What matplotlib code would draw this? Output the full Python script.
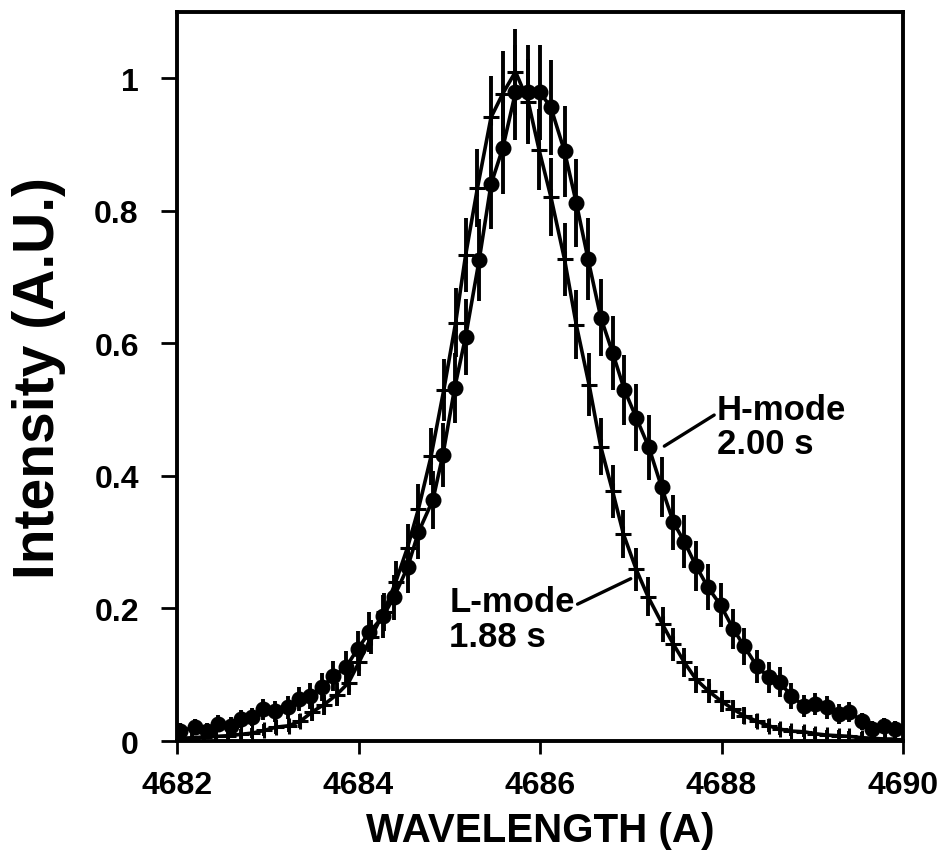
import matplotlib
matplotlib.use("Agg")
import matplotlib.pyplot as plt

plt.rcParams['font.family'] = ['Liberation Sans', 'DejaVu Sans']

# H-mode, 2.00 s (filled circles)
h_wl = [4682.03, 4682.20, 4682.33, 4682.45, 4682.59, 4682.71, 4682.83, 4682.95,
        4683.08, 4683.22, 4683.34, 4683.47, 4683.60, 4683.72, 4683.86, 4683.99,
        4684.12, 4684.27, 4684.39, 4684.54, 4684.66, 4684.82, 4684.93, 4685.06,
        4685.18, 4685.33, 4685.46, 4685.59, 4685.73, 4685.87, 4686.00, 4686.12,
        4686.27, 4686.40, 4686.53, 4686.67, 4686.80, 4686.93, 4687.06, 4687.20,
        4687.34, 4687.47, 4687.59, 4687.72, 4687.85, 4687.99, 4688.13, 4688.25,
        4688.39, 4688.52, 4688.64, 4688.77, 4688.91, 4689.03, 4689.16, 4689.29,
        4689.41, 4689.55, 4689.66, 4689.79, 4689.91]
h_int = [0.015, 0.021, 0.015, 0.026, 0.023, 0.033, 0.036, 0.048,
         0.045, 0.051, 0.063, 0.068, 0.081, 0.098, 0.111, 0.139,
         0.164, 0.188, 0.217, 0.262, 0.315, 0.364, 0.432, 0.533,
         0.610, 0.726, 0.840, 0.895, 0.979, 0.979, 0.979, 0.956,
         0.890, 0.812, 0.727, 0.639, 0.586, 0.530, 0.488, 0.443,
         0.383, 0.330, 0.301, 0.264, 0.232, 0.205, 0.169, 0.143,
         0.113, 0.096, 0.089, 0.068, 0.053, 0.056, 0.051, 0.041,
         0.044, 0.030, 0.018, 0.023, 0.018]
h_err = [0.012, 0.012, 0.012, 0.013, 0.013, 0.014, 0.014, 0.016,
         0.016, 0.017, 0.018, 0.019, 0.021, 0.023, 0.025, 0.027,
         0.030, 0.032, 0.034, 0.038, 0.041, 0.044, 0.048, 0.053,
         0.057, 0.062, 0.067, 0.069, 0.072, 0.072, 0.072, 0.071,
         0.069, 0.066, 0.062, 0.058, 0.056, 0.053, 0.051, 0.049,
         0.045, 0.042, 0.040, 0.038, 0.035, 0.033, 0.030, 0.028,
         0.025, 0.023, 0.022, 0.019, 0.017, 0.017, 0.017, 0.015,
         0.015, 0.013, 0.012, 0.012, 0.012]

# L-mode, 1.88 s (plus signs)
l_wl = [4682.03, 4682.17, 4682.30, 4682.43, 4682.56, 4682.70, 4682.83, 4682.96,
        4683.09, 4683.23, 4683.36, 4683.49, 4683.62, 4683.76, 4683.89, 4684.01,
        4684.14, 4684.28, 4684.41, 4684.54, 4684.66, 4684.80, 4684.94, 4685.07,
        4685.18, 4685.31, 4685.46, 4685.59, 4685.73, 4685.87, 4685.99, 4686.12,
        4686.27, 4686.40, 4686.54, 4686.67, 4686.80, 4686.92, 4687.06, 4687.19,
        4687.35, 4687.47, 4687.59, 4687.72, 4687.86, 4688.00, 4688.13, 4688.25,
        4688.39, 4688.52, 4688.64, 4688.77, 4688.91, 4689.03, 4689.16, 4689.29,
        4689.41, 4689.55, 4689.68, 4689.80, 4689.91]
l_int = [0.004, 0.005, 0.006, 0.007, 0.008, 0.010, 0.012, 0.016,
         0.021, 0.023, 0.030, 0.044, 0.055, 0.070, 0.088, 0.120,
         0.157, 0.195, 0.240, 0.292, 0.350, 0.430, 0.530, 0.631,
         0.733, 0.834, 0.941, 0.977, 1.010, 0.965, 0.892, 0.821,
         0.727, 0.628, 0.538, 0.444, 0.377, 0.312, 0.259, 0.218,
         0.176, 0.146, 0.119, 0.093, 0.075, 0.060, 0.048, 0.038,
         0.030, 0.023, 0.018, 0.015, 0.014, 0.011, 0.009, 0.008,
         0.007, 0.005, 0.004, 0.003, 0.003]
l_err = [0.008, 0.008, 0.008, 0.008, 0.008, 0.008, 0.008, 0.009,
         0.010, 0.010, 0.011, 0.014, 0.015, 0.017, 0.019, 0.022,
         0.026, 0.029, 0.032, 0.035, 0.038, 0.043, 0.047, 0.052,
         0.056, 0.059, 0.063, 0.064, 0.065, 0.064, 0.061, 0.059,
         0.055, 0.052, 0.048, 0.043, 0.040, 0.036, 0.033, 0.030,
         0.027, 0.025, 0.022, 0.020, 0.018, 0.016, 0.014, 0.013,
         0.011, 0.010, 0.009, 0.008, 0.008, 0.008, 0.008, 0.008,
         0.008, 0.008, 0.008, 0.008, 0.008]

fig = plt.figure(figsize=(9.42, 8.54), dpi=100)
ax = fig.add_axes([0.1879, 0.1311, 0.7707, 0.8536])

ax.errorbar(l_wl, l_int, yerr=l_err, color='black', lw=2.6, marker='+',
            markersize=12, mew=2.2, elinewidth=2.8, capsize=0)
ax.errorbar(h_wl, h_int, yerr=h_err, color='black', lw=2.6, marker='o',
            markersize=10.5, elinewidth=2.8, capsize=0)

ax.set_xlim(4682, 4690)
ax.set_ylim(0, 1.1)
ax.set_xticks([4682, 4684, 4686, 4688, 4690])
ax.set_yticks([0, 0.2, 0.4, 0.6, 0.8, 1.0])
ax.set_yticklabels(['0', '0.2', '0.4', '0.6', '0.8', '1'])

for s in ax.spines.values():
    s.set_linewidth(2.8)
ax.tick_params(axis='x', direction='out', length=9.5, width=2, pad=11,
               labelsize=23)
ax.tick_params(axis='y', direction='out', length=11.5, width=2, pad=16,
               labelsize=23)
for lab in ax.get_xticklabels() + ax.get_yticklabels():
    lab.set_fontweight('bold')

ax.set_xlabel('WAVELENGTH (A)', fontsize=29, fontweight='bold', labelpad=8)
ax.set_ylabel('Intensity (A.U.)', fontsize=41, fontweight='bold', labelpad=20)

ax.annotate('H-mode\n2.00 s', xy=(4687.37, 0.445), xytext=(4687.95, 0.525),
            fontsize=25, fontweight='bold', va='top', ha='left',
            linespacing=1.05,
            arrowprops=dict(arrowstyle='-', lw=2.4, color='black',
                            shrinkA=0, shrinkB=0, relpos=(0, 0.7)))
ax.annotate('L-mode\n1.88 s', xy=(4687.0, 0.245), xytext=(4685.0, 0.235),
            fontsize=25, fontweight='bold', va='top', ha='left',
            linespacing=1.05,
            arrowprops=dict(arrowstyle='-', lw=2.4, color='black',
                            shrinkA=0, shrinkB=0, relpos=(1.0, 0.7)))

fig.savefig('out.png', dpi=100)
